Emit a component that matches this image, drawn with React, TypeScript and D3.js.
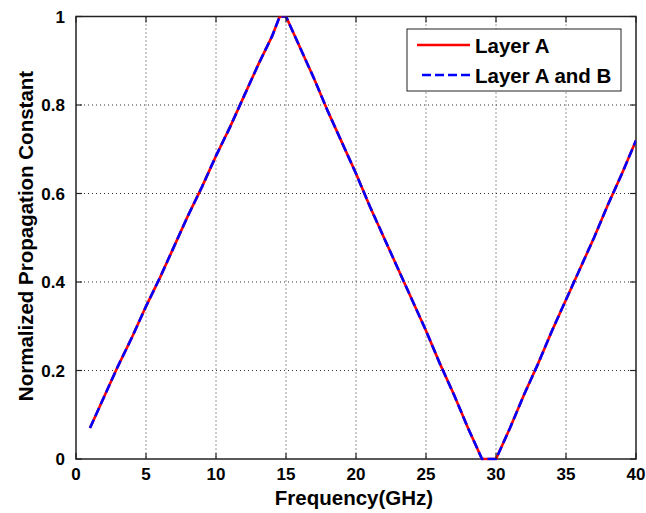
import React from "react";
import * as d3 from "d3";

const freqs = [1, 2, 3, 4, 5, 6, 7, 8, 9, 10, 11, 12, 13, 14, 14.55, 15, 16, 17, 18, 19, 20, 21, 22, 23, 24, 25, 26, 27, 28, 29, 30, 31, 32, 33, 34, 35, 36, 37, 38, 39, 40];
const layerA = [0.07, 0.14, 0.21, 0.275, 0.345, 0.41, 0.48, 0.55, 0.615, 0.685, 0.75, 0.82, 0.89, 0.955, 1.0, 1.0, 0.93, 0.86, 0.785, 0.715, 0.645, 0.57, 0.5, 0.43, 0.36, 0.29, 0.215, 0.145, 0.07, 0.0, 0.0, 0.07, 0.145, 0.215, 0.29, 0.36, 0.43, 0.5, 0.575, 0.645, 0.72];
const layerAB = [0.07, 0.14, 0.21, 0.275, 0.345, 0.41, 0.48, 0.55, 0.615, 0.685, 0.75, 0.82, 0.89, 0.955, 1.0, 1.0, 0.93, 0.86, 0.785, 0.715, 0.645, 0.57, 0.5, 0.43, 0.36, 0.29, 0.215, 0.145, 0.07, 0.0, 0.0, 0.07, 0.145, 0.215, 0.29, 0.36, 0.43, 0.5, 0.575, 0.645, 0.72];
const xTicks = [0, 5, 10, 15, 20, 25, 30, 35, 40];
const yTicks = [0, 0.2, 0.4, 0.6, 0.8, 1];
const yTickLabels = ["0", "0.2", "0.4", "0.6", "0.8", "1"];
const seriesNames = ["Layer A", "Layer A and B"];

const W = 646, H = 513;
const L = 76, R = 636, T = 16.5, B = 459;
const FONT = "'Liberation Sans', Arial, sans-serif";

export default function App() {
  const x = d3.scaleLinear().domain([0, 40]).range([L, R]);
  const y = d3.scaleLinear().domain([0, 1]).range([B, T]);
  const line = d3.line<number>().x((_, i) => x(freqs[i])).y((d) => y(d));
  const tick = 6;
  return (
    <svg width={W} height={H} style={{ position: "absolute", left: 0, top: 0, background: "#fff" }}>
      <defs>
        <clipPath id="plotclip">
          <rect x={L} y={T} width={R - L} height={B - T + 1.5} />
        </clipPath>
      </defs>
      <rect x={0} y={0} width={W} height={H} fill="#fff" />
      {/* grid */}
      {xTicks.slice(1, -1).map((t) => (
        <line key={"gx" + t} x1={x(t)} x2={x(t)} y1={T} y2={B} stroke="#333" strokeWidth={1} strokeDasharray="1,3" />
      ))}
      {yTicks.slice(1, -1).map((t) => (
        <line key={"gy" + t} x1={L} x2={R} y1={y(t)} y2={y(t)} stroke="#333" strokeWidth={1} strokeDasharray="1,3" />
      ))}
      {/* frame */}
      <rect x={L} y={T} width={R - L} height={B - T} fill="none" stroke="#222" strokeWidth={1.5} />
      {/* lines */}
      <g clipPath="url(#plotclip)">
        <path d={line(layerA) || ""} fill="none" stroke="#ff0000" strokeWidth={2.6} />
        <path d={line(layerAB) || ""} fill="none" stroke="#0000ff" strokeWidth={2.6} strokeDasharray="9,4" />
      </g>
      {/* ticks */}
      {xTicks.map((t) => (
        <g key={"tx" + t}>
          <line x1={x(t)} x2={x(t)} y1={B} y2={B - tick} stroke="#222" strokeWidth={1.2} />
          <line x1={x(t)} x2={x(t)} y1={T} y2={T + tick} stroke="#222" strokeWidth={1.2} />
          <text x={x(t)} y={480} textAnchor="middle" fontFamily={FONT} fontSize={17} fontWeight="bold" fill="#000">{t}</text>
        </g>
      ))}
      {yTicks.map((t, i) => (
        <g key={"ty" + t}>
          <line x1={L} x2={L + tick} y1={y(t)} y2={y(t)} stroke="#222" strokeWidth={1.2} />
          <line x1={R} x2={R - tick} y1={y(t)} y2={y(t)} stroke="#222" strokeWidth={1.2} />
          <text x={65} y={y(t) + 6} textAnchor="end" fontFamily={FONT} fontSize={17} fontWeight="bold" fill="#000">{yTickLabels[i]}</text>
        </g>
      ))}
      {/* axis labels */}
      <text x={(L + R) / 2 - 2} y={505} textAnchor="middle" fontFamily={FONT} fontSize={20.5} fontWeight="bold" fill="#000">Frequency(GHz)</text>
      <text transform={`translate(33,236) rotate(-90)`} textAnchor="middle" fontFamily={FONT} fontSize={20.5} fontWeight="bold" fill="#000">Normalized Propagation Constant</text>
      {/* legend */}
      <rect x={407} y={29} width={214} height={62} fill="#fff" stroke="#222" strokeWidth={1} />
      <line x1={417} x2={470} y1={45} y2={45} stroke="#ff0000" strokeWidth={2.6} />
      <line x1={422} x2={470} y1={75} y2={75} stroke="#0000ff" strokeWidth={2.6} strokeDasharray="9,4" />
      <text x={475} y={53} fontFamily={FONT} fontSize={20.5} fontWeight="bold" fill="#000">{seriesNames[0]}</text>
      <text x={475} y={83} fontFamily={FONT} fontSize={20.5} fontWeight="bold" fill="#000">{seriesNames[1]}</text>
    </svg>
  );
}
